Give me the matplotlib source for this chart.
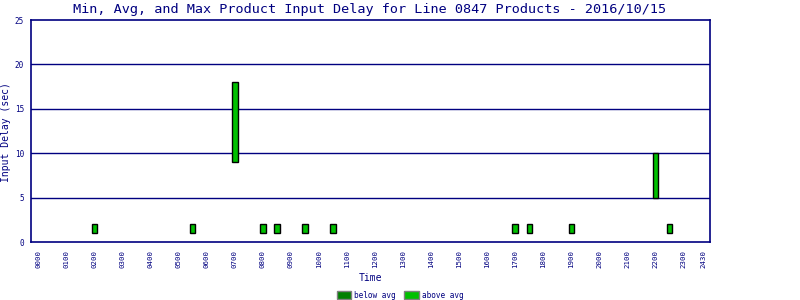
import matplotlib
matplotlib.use("Agg")
import matplotlib.pyplot as plt
from matplotlib.patches import Patch

# Data (hours of day, delay seconds)
times = [2.0, 5.5, 7.0, 8.0, 8.5, 9.5, 10.5, 17.0, 17.5, 19.0, 22.0, 22.5]
min_delay = [1, 1, 9, 1, 1, 1, 1, 1, 1, 1, 5, 1]
max_delay = [2, 2, 18, 2, 2, 2, 2, 2, 2, 2, 10, 2]
group = ["above"] * 12

tick_pos = list(range(0, 24)) + [23.72]
tick_labels = ["%02d00" % h for h in range(0, 24)] + ["2430"]
y_ticks = [0, 5, 10, 15, 20, 25]

NAVY = "#000080"
colors = {"below": "#008000", "above": "#00c000"}
labels = {"below": "below avg", "above": "above avg"}

plt.rcParams["font.family"] = ["DejaVu Sans Mono", "DejaVu Sans"]

fig = plt.figure(figsize=(8, 3), dpi=100)
ax = fig.add_axes([31/800, 58/300, 679/800, 222/300])

heights = [mx - mn for mn, mx in zip(min_delay, max_delay)]
ax.bar(times, heights, bottom=min_delay, width=0.2,
       color=[colors[g] for g in group], edgecolor="black", linewidth=1, zorder=3)

ax.set_xlim(-0.26, 23.94)
ax.set_ylim(0, 25)
ax.set_yticks(y_ticks)
ax.set_yticklabels([str(v) for v in y_ticks], fontsize=5.5, color=NAVY)
ax.set_xticks(tick_pos)
ax.set_xticklabels(tick_labels, rotation=90, fontsize=5.3, color=NAVY)
ax.tick_params(axis="y", length=0, pad=5)
ax.tick_params(axis="x", length=0, pad=6)

for v in y_ticks[1:-1]:
    ax.axhline(v, color=NAVY, linewidth=1, zorder=1)

for s in ax.spines.values():
    s.set_color(NAVY)
    s.set_linewidth(1.2)

fig.text(370/800, 1 - 9/300, "Min, Avg, and Max Product Input Delay for Line 0847 Products - 2016/10/15",
         fontsize=9.7, color=NAVY, ha="center", va="center")
fig.text(6.5/800, 1 - 132/300, "Input Delay (sec)", fontsize=7, color=NAVY,
         rotation=90, ha="center", va="center")
fig.text(370/800, 1 - 278/300, "Time", fontsize=7, color=NAVY, ha="center", va="center")

handles = [Patch(facecolor=colors[k], edgecolor="#808080", linewidth=1, label=labels[k])
           for k in ["below", "above"]]
leg = fig.legend(handles=handles, loc="center", bbox_to_anchor=(0.5, 1 - 295/300), ncol=2,
                 frameon=False, fontsize=5.6, handlelength=1.9, handleheight=1.1,
                 columnspacing=1.0, handletextpad=0.4, borderpad=0)
for t in leg.get_texts():
    t.set_color(NAVY)

fig.savefig("out.png", dpi=100)
